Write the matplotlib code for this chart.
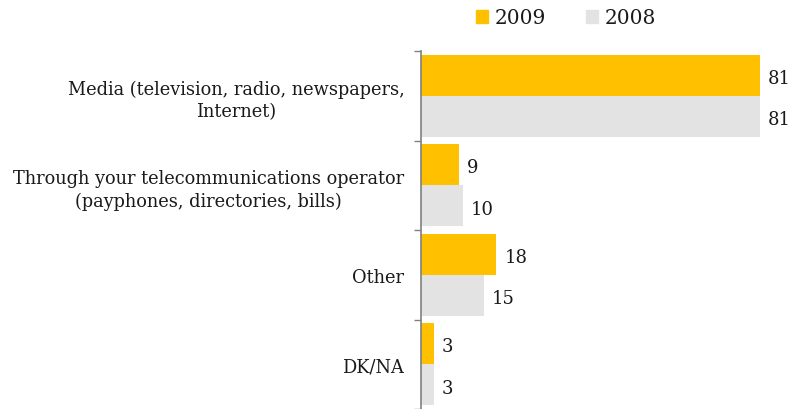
import matplotlib
matplotlib.use('Agg')
import matplotlib.pyplot as plt
import numpy as np
from matplotlib.patches import Patch

plt.rcParams['font.family'] = ['DejaVu Serif']

# 数据
categories = ['Media (television, radio, newspapers,\nInternet)',
              'Through your telecommunications operator\n(payphones, directories, bills)',
              'Other',
              'DK/NA']
values_2009 = [81, 9, 18, 3]
values_2008 = [81, 10, 15, 3]
series_names = ['2009', '2008']
colors = ['#FFC000', '#E3E3E3']
text_color = '#1a1a1a'

fig = plt.figure(figsize=(7.95, 4.1), dpi=100)
ax = fig.add_axes([421 / 795, 0.0, 1 - 421 / 795, 1 - 52 / 410])

y = np.arange(len(categories))
h = 0.46
ax.barh(y + 0.5 - h / 2, values_2009, height=h, color=colors[0], label=series_names[0])
ax.barh(y + 0.5 + h / 2, values_2008, height=h, color=colors[1], label=series_names[1])

# 数值标签
for i, (a, b) in enumerate(zip(values_2009, values_2008)):
    ax.annotate(str(a), (a, i + 0.5 - h / 2), xytext=(6, -2), textcoords='offset points',
                va='center', ha='left', fontsize=13, color=text_color)
    ax.annotate(str(b), (b, i + 0.5 + h / 2), xytext=(6, -2), textcoords='offset points',
                va='center', ha='left', fontsize=13, color=text_color)

ax.set_xlim(0, 89.4)
ax.set_ylim(len(categories), 0)

# 分组刻度在边界，标签在中间
ax.set_yticks(np.arange(len(categories) + 1))
ax.set_yticklabels([])
ax.set_yticks(y + 0.5, minor=True)
ax.set_yticklabels(categories, minor=True, fontsize=12.8, color=text_color,
                   multialignment='center', linespacing=1.3)
ax.tick_params(axis='y', which='major', length=5, color='#808080', width=1)
ax.tick_params(axis='y', which='minor', length=0, pad=12)
ax.set_xticks([])

for s in ['top', 'right', 'bottom']:
    ax.spines[s].set_visible(False)
ax.spines['left'].set_color('#808080')
ax.spines['left'].set_linewidth(1.2)

handles = [Patch(color=c, label=n) for c, n in zip(colors, series_names)]
fig.legend(handles=handles, loc='center', bbox_to_anchor=(566 / 795, 1 - 19 / 410),
           ncol=2, frameon=False, fontsize=14.5, handlelength=0.6, handleheight=0.6,
           handletextpad=0.3, columnspacing=2.0, labelcolor=text_color)

plt.savefig('out.png', dpi=100)
plt.close()
